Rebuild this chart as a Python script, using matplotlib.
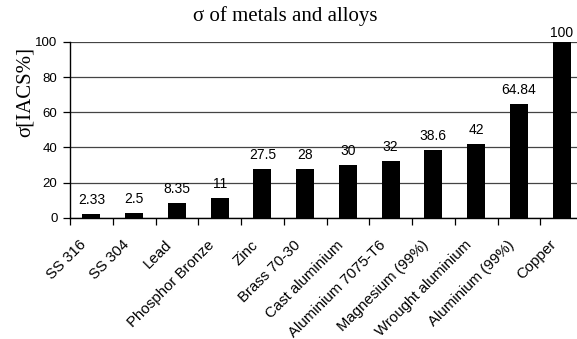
import matplotlib
matplotlib.use("Agg")
import matplotlib.pyplot as plt
import matplotlib.transforms as mtransforms
import numpy as np

materials = ["SS 316", "SS 304", "Lead", "Phosphor Bronze", "Zinc", "Brass 70-30",
             "Cast aluminium", "Aluminium 7075-T6", "Magnesium (99%)",
             "Wrought aluminium", "Aluminium (99%)", "Copper"]
conductivity = [2.33, 2.5, 8.35, 11, 27.5, 28, 30, 32, 38.6, 42, 64.84, 100]
value_labels = ["2.33", "2.5", "8.35", "11", "27.5", "28", "30", "32", "38.6", "42", "64.84", "100"]
yticks = [0, 20, 40, 60, 80, 100]

W, H = 577, 339
DPI = 100
fig = plt.figure(figsize=(W / DPI, H / DPI), dpi=DPI)
left, right, top, bottom = 70, 583, 42, 217.7
ax = fig.add_axes([left / W, 1 - bottom / H, (right - left) / W, (bottom - top) / H])

sans = "Liberation Sans"
serif = "Liberation Serif"
px = 72.0 / DPI  # one pixel in points

x = np.arange(len(materials))
ymax = 100
ax.bar(x, conductivity, width=0.42, color="black", zorder=3)
for xi, v, lab in zip(x, conductivity, value_labels):
    gap = 2 if v >= ymax else 7
    ax.annotate(lab, (xi, v), xytext=(0, gap * px), textcoords="offset points",
                ha="center", va="bottom", fontsize=10, family=sans,
                annotation_clip=False)

ax.set_xlim(-0.5, len(materials) - 0.5)
ax.set_ylim(0, ymax)
ax.set_yticks(yticks)
ax.set_yticklabels([str(t) for t in yticks], fontsize=9.5, family=sans)
ax.yaxis.grid(True, color="#444444", linewidth=0.9, zorder=0)

# ticks sit between the categories
ax.set_xticks(np.arange(len(materials) + 1) - 0.5)
ax.set_xticklabels([])
ax.tick_params(axis="x", length=5, direction="out", width=0.9)
ax.tick_params(axis="y", length=5, direction="out", width=0.9, pad=4)

# rotated category names under each bar
base = mtransforms.blended_transform_factory(ax.transData, ax.transAxes)
shift = mtransforms.ScaledTranslation(-12 / DPI, -20 / DPI, fig.dpi_scale_trans)
for xi, name in zip(x, materials):
    ax.text(xi, 0, name, transform=base + shift, rotation=45,
            rotation_mode="anchor", ha="right", va="top",
            fontsize=10.8, family=sans, clip_on=False)

for s in ["top", "right"]:
    ax.spines[s].set_visible(False)
ax.spines["left"].set_linewidth(1.0)
ax.spines["bottom"].set_linewidth(1.0)

fig.text(285 / W, 1 - 16 / H, "σ of metals and alloys", ha="center", va="center",
         fontsize=15, family=serif)
fig.text(25 / W, 1 - 92 / H, "σ[IACS%]", ha="center", va="center", rotation=90,
         fontsize=15, family=serif)

fig.savefig("out.png", dpi=DPI)
